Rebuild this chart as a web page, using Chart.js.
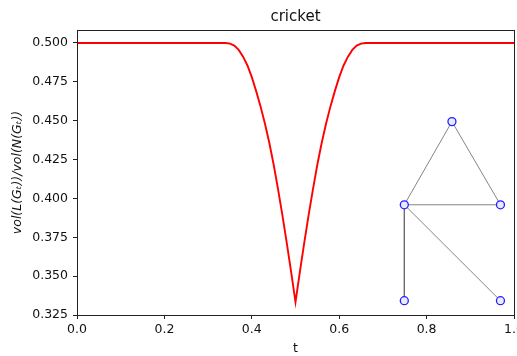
<!DOCTYPE html>
<html>
<head>
<meta charset="utf-8">
<script src="https://cdn.jsdelivr.net/npm/chart.js@4.4.1/dist/chart.umd.min.js"></script>
<style>
  html, body { margin: 0; padding: 0; background: #fff; overflow: hidden; }
  #wrap { width: 517px; height: 356px; overflow: hidden; }
</style>
</head>
<body>
<div id="wrap"><canvas id="c" width="540" height="356"></canvas></div>
<script>
// --- data ---
const tVals = [0, 0.1, 0.2, 0.3, 0.33, 0.34, 0.35, 0.36, 0.37, 0.38, 0.39, 0.40, 0.41, 0.42, 0.43, 0.44,
  0.45, 0.46, 0.47, 0.48, 0.49, 0.50, 0.51, 0.52, 0.53, 0.54, 0.55, 0.56, 0.57, 0.58, 0.59,
  0.60, 0.61, 0.62, 0.63, 0.64, 0.65, 0.66, 0.67, 0.7, 0.8, 0.9, 1.0];
const ratio = [0.5, 0.5, 0.5, 0.5, 0.5, 0.5, 0.4996, 0.4983, 0.4955, 0.4912, 0.4855, 0.4780, 0.4690, 0.4592, 0.4482, 0.4358,
  0.4218, 0.4060, 0.3892, 0.3714, 0.3528, 0.3333, 0.3528, 0.3714, 0.3892, 0.4060, 0.4218, 0.4358, 0.4482, 0.4592, 0.4690,
  0.4780, 0.4855, 0.4912, 0.4955, 0.4983, 0.4996, 0.5, 0.5, 0.5, 0.5, 0.5, 0.5];

const xTicks = [0.0, 0.2, 0.4, 0.6, 0.8, 1.0];
const yTicks = [0.325, 0.350, 0.375, 0.400, 0.425, 0.450, 0.475, 0.500];

// inset graph (cricket), node positions in plot units
const nodeX = [0.858, 0.749, 0.969, 0.749, 0.969];
const nodeY = [0.4494, 0.3959, 0.3959, 0.3342, 0.3342];
const edges = [[0, 1], [0, 2], [1, 2], [1, 3], [1, 4]];

const FONT = "'DejaVu Sans', sans-serif";
Chart.defaults.color = '#111';
Chart.defaults.font.family = FONT;

const frame = {
  id: 'frame',
  afterDraw(chart) {
    const { ctx, chartArea: a } = chart;
    ctx.save();
    ctx.strokeStyle = '#222';
    ctx.lineWidth = 1;
    ctx.strokeRect(Math.round(a.left) + 0.5, Math.round(a.top) + 0.5,
      Math.round(a.right - a.left), Math.round(a.bottom - a.top));
    ctx.restore();
  }
};

const datasets = [{
  type: 'scatter',
  data: nodeX.map((x, i) => ({ x, y: nodeY[i] })),
  pointRadius: 4,
  pointBorderWidth: 1.3,
  pointBorderColor: '#2222ff',
  pointBackgroundColor: '#e8e8ff'
}];
edges.forEach(([a, b]) => {
  datasets.push({
    type: 'line',
    data: [{ x: nodeX[a], y: nodeY[a] }, { x: nodeX[b], y: nodeY[b] }],
    borderColor: '#666',
    borderWidth: 0.8,
    pointRadius: 0
  });
});
datasets.push({
  type: 'line',
  data: tVals.map((t, i) => ({ x: t, y: ratio[i] })),
  borderColor: '#ff0000',
  borderWidth: 1.9,
  pointRadius: 0,
  tension: 0
});

new Chart(document.getElementById('c'), {
  type: 'line',
  data: { datasets },
  plugins: [frame],
  options: {
    responsive: false,
    animation: false,
    layout: { padding: { left: 0, right: 26, top: 0, bottom: 0 } },
    plugins: {
      legend: { display: false },
      tooltip: { enabled: false },
      title: {
        display: true,
        text: 'cricket',
        fullSize: false,
        font: { size: 15, weight: 'normal' },
        padding: { top: 8, bottom: 4 },
        color: '#111'
      }
    },
    scales: {
      x: {
        type: 'linear',
        min: 0, max: 1,
        afterBuildTicks: s => { s.ticks = xTicks.map(v => ({ value: v })); },
        afterFit: s => { s.height = 41; },
        ticks: { font: { size: 12.5 }, padding: 3, maxRotation: 0, callback: v => v.toFixed(1) },
        grid: { drawOnChartArea: false, tickLength: 4, color: '#222' },
        border: { color: '#222' },
        title: { display: true, text: 't', font: { size: 12.5 }, padding: { top: 0, bottom: 0 } }
      },
      y: {
        type: 'linear',
        min: 0.325, max: 0.50833,
        afterBuildTicks: s => { s.ticks = yTicks.map(v => ({ value: v })); },
        afterFit: s => { s.width = 77; },
        ticks: { font: { size: 12.5 }, padding: 5, callback: v => v.toFixed(3) },
        grid: { drawOnChartArea: false, tickLength: 4, color: '#222' },
        border: { color: '#222' },
        title: {
          display: true,
          text: 'vol(L(G\u209C))/vol(N(G\u209C))',
          font: { size: 12.5, style: 'italic' },
          padding: { top: 10, bottom: 0 }
        }
      }
    }
  }
});
</script>
</body>
</html>
